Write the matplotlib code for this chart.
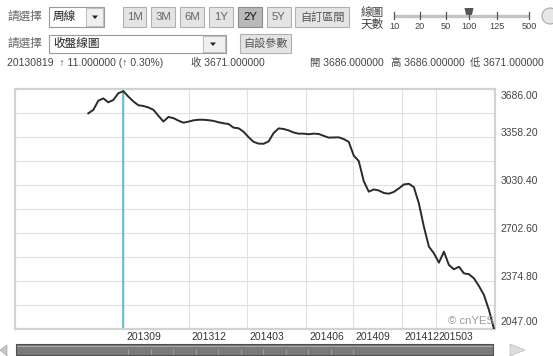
import matplotlib
matplotlib.use("Agg")
import matplotlib.pyplot as plt
import numpy as np
from matplotlib.patches import Rectangle, Polygon, Circle

plt.rcParams['font.family'] = ['Liberation Sans', 'Noto Sans CJK TC', 'DejaVu Sans']

# 周線收盤 (weekly closes)
closes = [3520, 3543, 3606, 3622, 3595, 3611, 3657, 3671, 3634, 3601,
          3575, 3570, 3560, 3544, 3503, 3464, 3495, 3487, 3470, 3456,
          3463, 3472, 3476, 3476, 3473, 3468, 3459, 3452, 3447, 3422,
          3418, 3394, 3357, 3325, 3313, 3312, 3328, 3385, 3417, 3413,
          3403, 3389, 3381, 3381, 3377, 3381, 3379, 3366, 3354, 3355,
          3356, 3344, 3325, 3231, 3194, 3056, 2985, 3000, 2993, 2976,
          2971, 2983, 3007, 3034, 3039, 3016, 2905, 2746, 2610, 2564,
          2500, 2575, 2484, 2455, 2472, 2427, 2421, 2393, 2340, 2279,
          2176, 2047]
week_idx = np.arange(len(closes))

month_ticks = [7.1, 20.1, 31.7, 43.5, 52.8, 62.6, 69.4]
month_labels = ['201309', '201312', '201403', '201406', '201409', '201412', '201503']
y_low, y_high = 2047.00, 3686.00
y_labels = np.linspace(y_high, y_low, 6)

sel_idx = 7
sel_date = '20130819'
sel_change = 11.0
sel_pct = 0.30
sel_close, sel_open, sel_high, sel_low = 3671.0, 3686.0, 3686.0, 3671.0

periods = ['1M', '3M', '6M', '1Y', '2Y', '5Y']
period_sel = '2Y'
days_opts = ['10', '20', '50', '100', '125', '500']
days_sel = '100'

fig = plt.figure(figsize=(5.53, 3.56), dpi=100)
fig.patch.set_facecolor('white')

# --- header / controls drawn in pixel space ---
ui = fig.add_axes([0, 0, 1, 1])
ui.set_xlim(0, 553)
ui.set_ylim(356, 0)
ui.axis('off')


def box(x0, y0, x1, y1, fc='white', ec='#9a9a9a', lw=0.8):
    ui.add_patch(Rectangle((x0, y0), x1 - x0, y1 - y0, facecolor=fc,
                           edgecolor=ec, linewidth=lw))


def down_arrow(cx, cy):
    ui.add_patch(Polygon([[cx - 3, cy - 1.5], [cx + 3, cy - 1.5], [cx, cy + 2]],
                         closed=True, facecolor='#222222', edgecolor='none'))


grey = '#666666'
ui.text(7, 17, '請選擇', fontsize=8.4, color=grey, va='center')
box(49, 7, 104, 27)
box(86, 8, 103, 26, fc='#f0f0f0', ec='#c0c0c0')
ui.text(53, 17, '周線', fontsize=8.4, color='#222222', va='center')
down_arrow(95, 17)

btn_x = [(123, 146), (151, 175), (180, 204), (209, 233), (238, 262), (267, 291)]
for (x0, x1), p in zip(btn_x, periods):
    on = p == period_sel
    box(x0, 7, x1, 27, fc='#b9b9b9' if on else '#e4e4e4',
        ec='#8a8a8a' if on else '#b0b0b0')
    ui.text((x0 + x1) / 2, 17.5, p, fontsize=8.2, ha='center', va='center',
            color='#111111' if on else '#666666')
box(295, 7, 349, 27, fc='#e4e4e4', ec='#b0b0b0')
ui.text(322, 17.5, '自訂區間', fontsize=8, ha='center', va='center', color='#555555')

ui.text(372, 13, '線圖', fontsize=8.4, ha='center', va='center', color='#444444')
ui.text(372, 25, '天數', fontsize=8.4, ha='center', va='center', color='#444444')
slider_x = [394, 420, 446, 469, 497, 529]
ui.plot([394, 529], [16, 16], color='#c4c4c4', lw=2.4, solid_capstyle='butt')
for sx, d in zip(slider_x, days_opts):
    ui.plot([sx, sx], [12, 19], color='#555555', lw=0.9)
    ui.text(sx, 26.5, d, fontsize=6.6, ha='center', va='center', color='#444444')
    if d == days_sel:
        ui.add_patch(Polygon([[sx - 4.5, 8], [sx + 4.5, 8], [sx + 2.5, 17], [sx - 2.5, 17]],
                             closed=True, facecolor='#555555', edgecolor='none'))
ui.add_patch(Circle((550, 16), 8, facecolor='#e6e6e6', edgecolor='#a8a8a8', lw=0.8))

ui.text(7, 44, '請選擇', fontsize=8.4, color=grey, va='center')
box(49, 35, 226, 53)
box(203, 36, 225, 52, fc='#f0f0f0', ec='#c0c0c0')
ui.text(53, 44, '收盤線圖', fontsize=8.4, color='#222222', va='center')
down_arrow(213, 44)
box(240, 34, 291, 53, fc='#e4e4e4', ec='#b0b0b0')
ui.text(265.5, 43.5, '自設參數', fontsize=8, ha='center', va='center', color='#555555')

info = '#444444'
ui.text(7, 63, f'{sel_date}  \u2191 {sel_change:.6f} (\u2191 {sel_pct:.2f}%)',
        fontsize=7.5, color=info, va='center')
ui.text(191, 63, f'收 {sel_close:.6f}', fontsize=7.5, color=info, va='center')
ui.text(310, 63, f'開 {sel_open:.6f}', fontsize=7.5, color=info, va='center')
ui.text(391, 63, f'高 {sel_high:.6f}', fontsize=7.5, color=info, va='center')
ui.text(470, 63, f'低 {sel_low:.6f}', fontsize=7.5, color=info, va='center')

# scrollbar under the chart
ui.add_patch(Rectangle((16, 344), 477, 11, facecolor='#7a7a7a', edgecolor='#4e4e4e', lw=0.8))
ui.plot([17, 492], [345.5, 345.5], color='#a8a8a8', lw=0.8)
for sx in np.arange(128, 360, 22.5):
    ui.plot([sx, sx], [349, 354], color='#a0a0a0', lw=0.6)
ui.add_patch(Polygon([[0, 350], [7, 345], [7, 356]], closed=True,
                     facecolor='#c8c8c8', edgecolor='#aaaaaa', lw=0.5))
ui.add_patch(Polygon([[510, 344], [525, 350], [510, 356]], closed=True,
                     facecolor='#dddddd', edgecolor='#bbbbbb', lw=0.5))

# --- chart ---
ax = fig.add_axes([15 / 553, 27 / 356, 480 / 553, 240 / 356])
ax.set_facecolor('white')
ax.plot(week_idx, closes, color='#2a2a2a', lw=1.4, zorder=3)
ax.axvline(sel_idx, color='#4fb8cc', lw=1.2, zorder=2)
ax.set_xlim(-14.63, 81.2)
ax.set_ylim(y_low, y_high)
ax.set_yticks(np.linspace(y_low, y_high, 11))
ax.set_xticks(month_ticks)
ax.grid(color='#e0e0e0', lw=0.8)
ax.tick_params(length=0, labelleft=False, labelbottom=False)
for s in ax.spines.values():
    s.set_color('#d2d2d2')
    s.set_linewidth(1.6)

for i, v in enumerate(y_labels):
    dy = -5 if i == 0 else (5 if i == len(y_labels) - 1 else 3)
    ax.annotate(f'{v:.2f}', xy=(1, v), xycoords=('axes fraction', 'data'),
                xytext=(4, dy), textcoords='offset points', fontsize=7.5,
                color='#444444', va='center', ha='left', annotation_clip=False)

for t, lab in zip(month_ticks, month_labels):
    ax.annotate(lab, xy=(t, 0), xycoords=('data', 'axes fraction'),
                xytext=(2, -6), textcoords='offset points', fontsize=7.5,
                color='#333333', va='center', ha='left', annotation_clip=False)

ax.text(0.998, 0.035, '\u00a9 cnYES', transform=ax.transAxes, fontsize=8.2,
        color='#9a9a9a', ha='right', va='center')

fig.savefig('out.png', dpi=100, facecolor='white')
